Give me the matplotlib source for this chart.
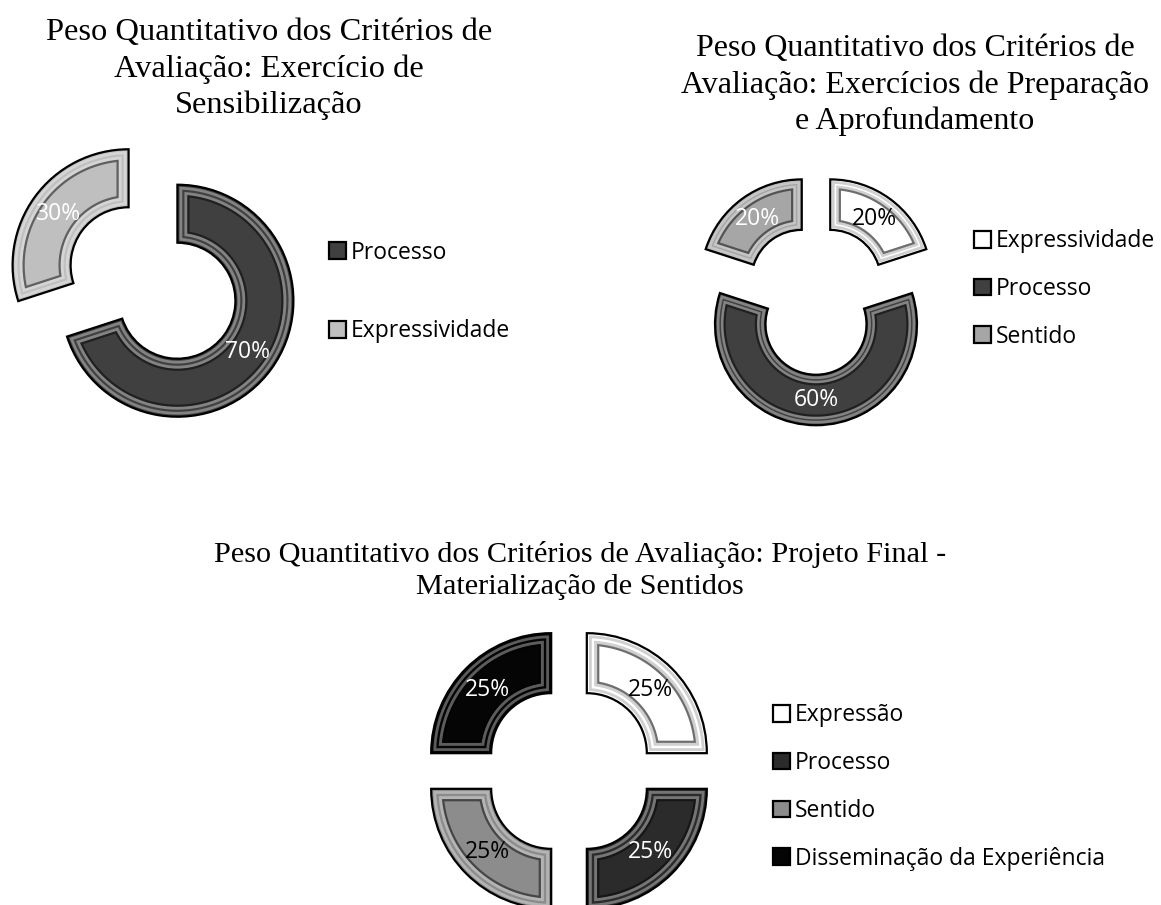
import matplotlib.pyplot as plt
from matplotlib.patches import Polygon
import numpy as np

W, H = 1161, 905

# Exercício de Sensibilização
sens_labels = ['Processo', 'Expressividade']
sens_values = [70, 30]
sens_colors = ['#404040', '#bfbfbf']
sens_text = ['white', 'white']

# Exercícios de Preparação e Aprofundamento
prep_labels = ['Expressividade', 'Processo', 'Sentido']
prep_values = [20, 60, 20]
prep_colors = ['#ffffff', '#404040', '#a6a6a6']
prep_text = ['black', 'white', 'white']

# Projeto Final - Materialização de Sentidos
final_labels = ['Expressão', 'Processo', 'Sentido', 'Disseminação da Experiência']
final_values = [25, 25, 25, 25]
final_colors = ['#ffffff', '#2b2b2b', '#8c8c8c', '#050505']
final_text = ['black', 'white', 'black', 'white']

fig = plt.figure(figsize=(W / 100, H / 100), dpi=100)
LEG_FONT = 'Open Sans'


def shade(color, f):
    c = np.array(plt.matplotlib.colors.to_rgb(color))
    if f < 0:
        return tuple(c * (1 + f))
    return tuple(c + (1 - c) * f)


def bevel(ax, w, inset, color, lw):
    # inner outline of a ring segment, offset inwards by `inset`
    cx, cy = w.center
    r_out = w.r - inset
    r_in = w.r - w.width + inset
    a1, a2 = np.deg2rad(w.theta1), np.deg2rad(w.theta2)
    do = np.arcsin(inset / r_out)
    di = np.arcsin(inset / r_in)
    t_out = np.linspace(a1 + do, a2 - do, 80)
    t_in = np.linspace(a2 - di, a1 + di, 80)
    xs = np.concatenate([cx + r_out * np.cos(t_out), cx + r_in * np.cos(t_in)])
    ys = np.concatenate([cy + r_out * np.sin(t_out), cy + r_in * np.sin(t_in)])
    ax.add_patch(Polygon(np.column_stack([xs, ys]), closed=True, fill=False,
                         edgecolor=color, lw=lw, joinstyle='miter'))


def donut(cx, cy, R, values, labels, colors, txt, explode, legend_xy, spacing):
    k = 1.7
    ax = fig.add_axes([(cx - k * R) / W, (H - cy - k * R) / H,
                       2 * k * R / W, 2 * k * R / H])
    wedges, _, pcts = ax.pie(values, colors=colors, startangle=90,
                             counterclock=False, explode=[explode] * len(values),
                             autopct='%.0f%%', pctdistance=0.75,
                             wedgeprops=dict(width=0.5, edgecolor='black', linewidth=1.6),
                             textprops=dict(fontsize=16.5, family=LEG_FONT))
    for t, c in zip(pcts, txt):
        t.set_color(c)
        t.set_zorder(5)
    for w, c in zip(wedges, colors):
        dark = shade(c, -0.5) if c != '#ffffff' else '#6e6e6e'
        light = shade(c, 0.35) if c != '#ffffff' else '#d0d0d0'
        bevel(ax, w, 0.03, light, 2.0)
        bevel(ax, w, 0.075, light, 2.4)
        bevel(ax, w, 0.095, dark, 1.6)
    ax.set_xlim(-k, k)
    ax.set_ylim(-k, k)
    ax.axis('off')
    ax.legend(wedges, labels, loc='center left',
              bbox_to_anchor=(legend_xy[0] / W, 1 - legend_xy[1] / H),
              bbox_transform=fig.transFigure, frameon=False,
              prop=dict(family=LEG_FONT, size=16.5), handlelength=0.75,
              handleheight=0.75, handletextpad=0.2, labelspacing=spacing,
              borderpad=0, borderaxespad=0)
    return ax


donut(153, 283, 116, sens_values, sens_labels, sens_colors, sens_text, 0.26, (329, 292), 2.38)
donut(816, 300, 101, prep_values, prep_labels, prep_colors, prep_text, 0.24, (974, 289), 1.03)
donut(569, 771, 120, final_values, final_labels, final_colors, final_text, 0.21, (773, 787), 1.04)

title_kw = dict(ha='center', va='center', family='Liberation Serif', linespacing=1.3)
fig.text(269 / W, 1 - 69 / H, 'Peso Quantitativo dos Critérios de\nAvaliação: Exercício de\nSensibilização',
         fontsize=23.4, **title_kw)
fig.text(915 / W, 1 - 85 / H, 'Peso Quantitativo dos Critérios de\nAvaliação: Exercícios de Preparação\ne Aprofundamento',
         fontsize=23.0, **title_kw)
fig.text(580 / W, 1 - 570 / H, 'Peso Quantitativo dos Critérios de Avaliação: Projeto Final -\nMaterialização de Sentidos',
         fontsize=21.8, **title_kw)

fig.savefig('out.png', dpi=100)
